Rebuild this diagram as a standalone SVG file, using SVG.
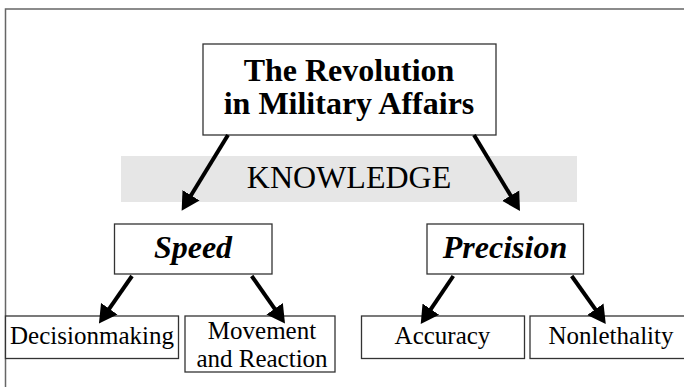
<svg xmlns="http://www.w3.org/2000/svg" width="684" height="387" viewBox="0 0 684 387">
<style>
.box{fill:#fff;stroke:#333;stroke-width:1.3}
.t{font-family:"Liberation Serif","Times New Roman",serif;fill:#000;text-anchor:middle}
.title{font-size:32px;font-weight:bold}
.mid{font-size:32px;font-weight:bold;font-style:italic}
.leaf{font-size:25px}
.arr{stroke:#000;stroke-width:4;fill:none;marker-end:url(#ah)}
</style>
<defs>
<marker id="ah" markerUnits="userSpaceOnUse" markerWidth="20" markerHeight="22" viewBox="0 -11 20 22" refX="2" refY="0" orient="auto">
<path d="M0,-10 L18,0 L0,10 z" fill="#000"/>
</marker>
</defs>
<rect width="684" height="387" fill="#fff"/>
<g id="frame">
<path d="M5.5,387 V9 H684" fill="none" stroke="#666" stroke-width="1.5"/>
</g>
<g id="knowledge">
<rect x="121" y="156" width="456" height="46" fill="#e6e6e6"/>
<text class="t" x="349" y="188" font-size="32">KNOWLEDGE</text>
</g>
<g id="rma">
<rect class="box" x="203" y="44" width="293" height="91"/>
<text class="t title" x="349" y="81">The Revolution</text>
<text class="t title" x="349" y="114">in Military Affairs</text>
</g>
<g id="speed">
<rect class="box" x="114.5" y="224" width="157.5" height="50"/>
<text class="t mid" x="193" y="258">Speed</text>
</g>
<g id="precision">
<rect class="box" x="427" y="224" width="156.5" height="50"/>
<text class="t mid" x="505" y="258">Precision</text>
</g>
<g id="decisionmaking">
<rect class="box" x="5.5" y="316" width="173" height="42.5"/>
<text class="t leaf" x="92" y="344">Decisionmaking</text>
</g>
<g id="movement">
<rect class="box" x="185" y="316" width="150" height="56"/>
<text class="t leaf" x="262" y="338.5">Movement</text>
<text class="t leaf" x="262" y="366.5">and Reaction</text>
</g>
<g id="accuracy">
<rect class="box" x="361.5" y="316" width="163" height="42.5"/>
<text class="t leaf" x="442.5" y="344">Accuracy</text>
</g>
<g id="nonlethality">
<rect class="box" x="530" y="316" width="160" height="42.5"/>
<text class="t leaf" x="611" y="344">Nonlethality</text>
</g>
<g id="connectors">
<line class="arr" x1="228" y1="135" x2="190" y2="197"/>
<line class="arr" x1="474" y1="135" x2="511.7" y2="197.3"/>
<line class="arr" x1="132" y1="276" x2="108.1" y2="310.3"/>
<line class="arr" x1="251.7" y1="276" x2="275.8" y2="310.4"/>
<line class="arr" x1="453.3" y1="276" x2="429.7" y2="310.8"/>
<line class="arr" x1="571.7" y1="276" x2="596.5" y2="310.9"/>
</g>
</svg>
